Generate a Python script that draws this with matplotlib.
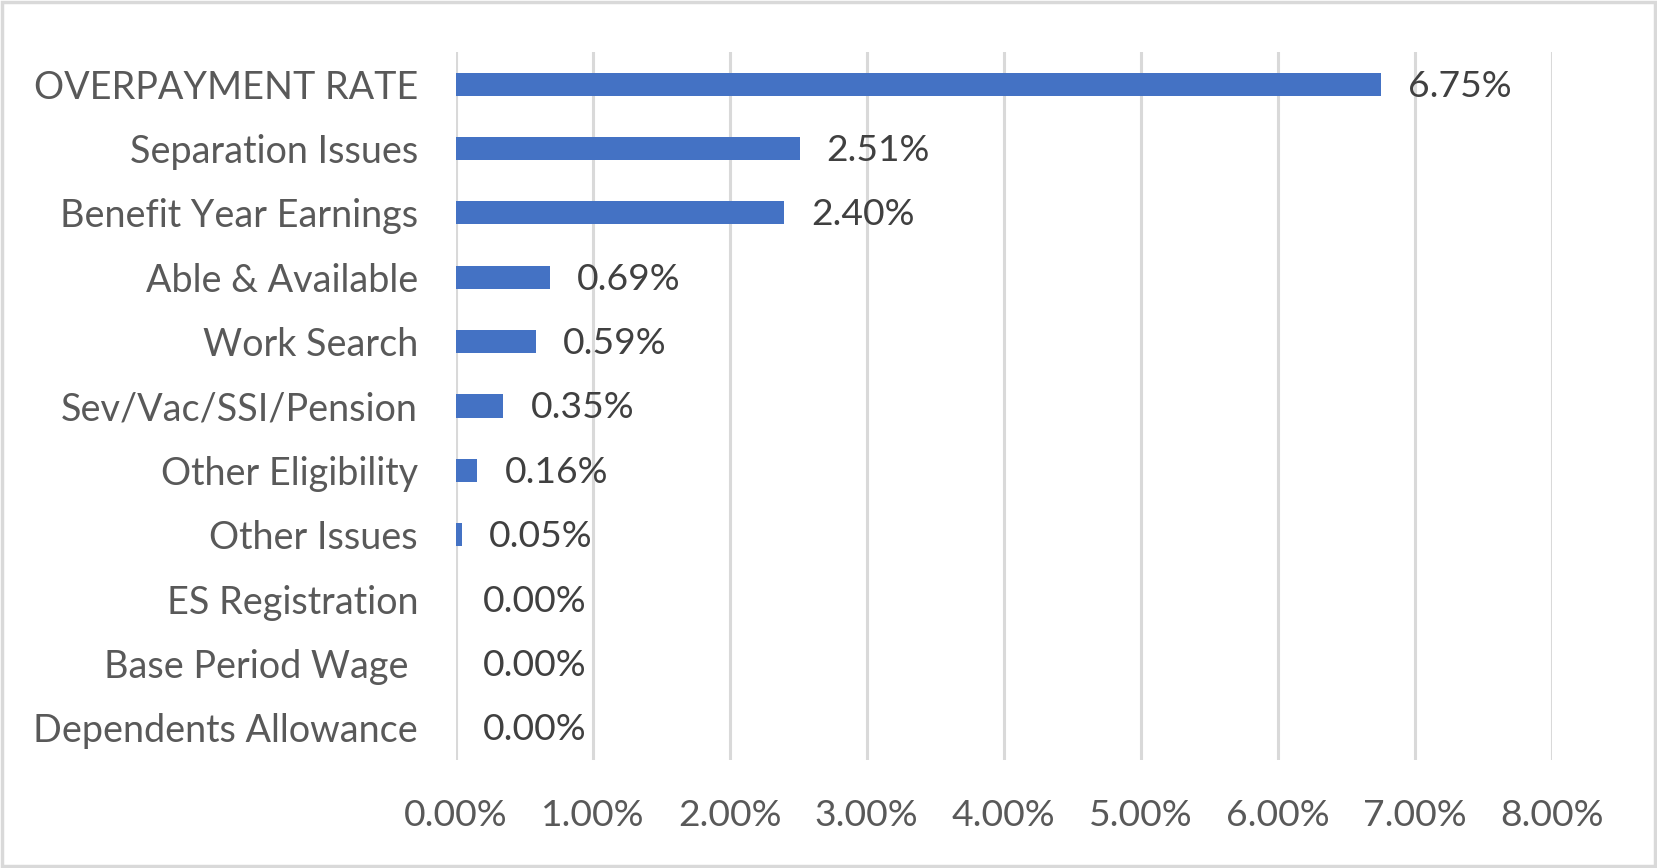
import matplotlib.pyplot as plt
from matplotlib.ticker import FuncFormatter, MultipleLocator

categories = ["OVERPAYMENT RATE", "Separation Issues", "Benefit Year Earnings",
              "Able & Available", "Work Search", "Sev/Vac/SSI/Pension",
              "Other Eligibility", "Other Issues", "ES Registration",
              "Base Period Wage ", "Dependents Allowance"]
rates = [6.75, 2.51, 2.40, 0.69, 0.59, 0.35, 0.16, 0.05, 0.00, 0.00, 0.00]

plt.rcParams['font.family'] = ['Lato', 'DejaVu Sans']

fig = plt.figure(figsize=(16.57, 8.68), dpi=100)
ax = fig.add_axes([455.5 / 1657, (868 - 760) / 868, (1552 - 455.5) / 1657, (760 - 52) / 868])

y = list(range(len(categories)))
ax.barh(y, rates, height=0.36, color="#4472C4", zorder=3)
for yi, v in zip(y, rates):
    ax.annotate(f"{v:.2f}%", (v, yi), xytext=(27, -2), textcoords="offset pixels",
                ha="left", va="center", fontsize=26.8, color="#404040")

ax.set_ylim(len(categories) - 0.5, -0.5)
ax.set_xlim(0, 8)
ax.xaxis.set_major_locator(MultipleLocator(1))
ax.xaxis.set_major_formatter(FuncFormatter(lambda x, p: f"{x:.2f}%"))
ax.set_yticks(y)
ax.set_yticklabels(categories)
ax.grid(axis="x", color="#d9d9d9", linewidth=2.2, zorder=0)
for s in ax.spines.values():
    s.set_visible(False)
ax.tick_params(axis="both", length=0, labelsize=26.8, labelcolor="#595959")
ax.tick_params(axis="y", labelsize=27.2, pad=27)
ax.tick_params(axis="x", pad=28)

fig.patches.append(plt.Rectangle((0.001, 0.002), 0.998, 0.996, transform=fig.transFigure,
                                 fill=False, edgecolor="#d9d9d9", linewidth=2.5))
fig.savefig("out.png", dpi=100)
